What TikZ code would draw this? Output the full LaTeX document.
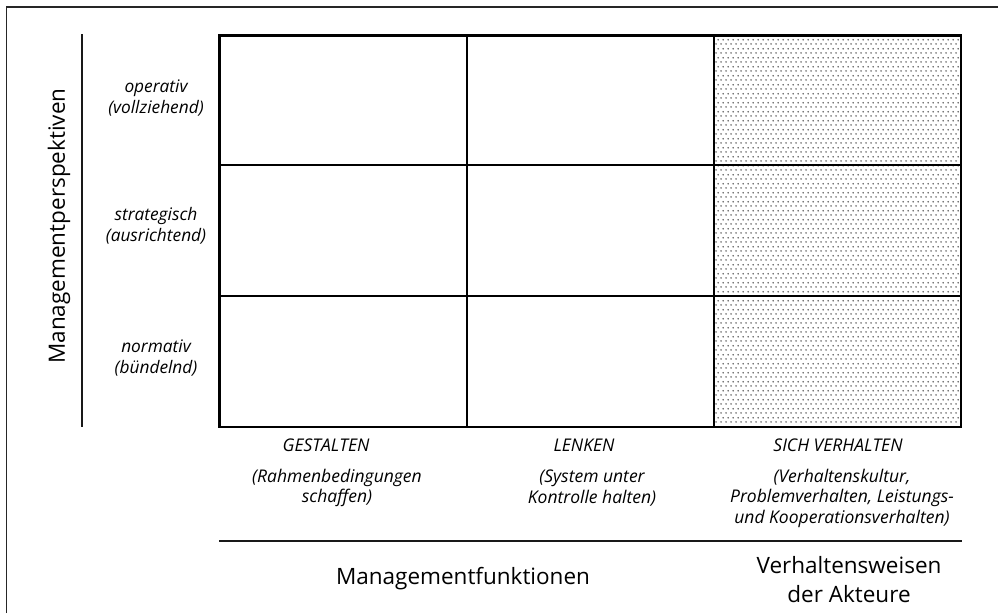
\documentclass[tikz,border=0pt]{standalone}
\usepackage{fontspec}
\setmainfont{Open Sans}
\usetikzlibrary{patterns.meta}

% staggered dot raster for the behaviour column
\tikzdeclarepattern{
  name=fieldpoints,
  type=uncolored,
  bottom left={(0pt,0pt)},
  top right={(5pt,8.6pt)},
  tile size={(5pt,8.6pt)},
  code={
    \fill (1.25pt,2.15pt) circle (0.9pt);
    \fill (3.75pt,6.45pt) circle (0.9pt);
  }
}

\tikzset{
  frameline/.style={line width=1.2pt, black!85},
  gridline/.style={line width=2.4pt, black},
  axisline/.style={line width=2.6pt, black!90},
  rowlabel/.style={font=\itshape\fontsize{17.3}{21}\selectfont, align=center, inner sep=0pt},
  collabel/.style={font=\itshape\fontsize{17.5}{20.5}\selectfont, align=center, inner sep=0pt},
  axistitle/.style={font=\fontsize{22.5}{29}\selectfont, align=center, inner sep=0pt},
}

\begin{document}
\begin{tikzpicture}[x=1pt, y=-1pt]
  \useasboundingbox (0,0) rectangle (998,613);
  \fill[white] (0,0) rectangle (998,613);

  % outer frame (top and left edges)
  \draw[frameline] (6.5,613) -- (6.5,7) -- (998,7);

  % grid corner points
  \coordinate (g00) at (219.5,35.5);
  \coordinate (g33) at (961,427);
  \coordinate (c2top) at (714,35.5);

  % dotted behaviour column
  \fill[pattern={fieldpoints}, pattern color=black!72] (c2top) rectangle (g33);

  % matrix lines
  \draw[gridline] (g00) rectangle (g33);
  \draw[gridline] (466.7,35.5) -- (466.7,427);
  \draw[gridline] (714,35.5) -- (714,427);
  \draw[gridline] (219.5,165) -- (961,165);
  \draw[gridline] (219.5,296) -- (961,296);

  % vertical axis
  \coordinate (axtop) at (82,34);
  \coordinate (axbot) at (82,427);
  \draw[axisline] (axtop) -- (axbot);
  \node[axistitle, rotate=90] (perspektiven) at (59,226) {Managementperspektiven};

  % row labels
  \node[rowlabel] (operativ) at (156,98) {operativ\\(vollziehend)};
  \node[rowlabel] (strategisch) at (156,226) {strategisch\\(ausrichtend)};
  \node[rowlabel] (normativ) at (156,358) {normativ\\(bündelnd)};

  % column labels
  \node[collabel] (gestalten) at (326,445) {GESTALTEN};
  \node[collabel] (gestaltendesc) at (337,488) {(Rahmenbedingungen\\schaffen)};
  \node[collabel] (lenken) at (584,445) {LENKEN};
  \node[collabel] (lenkendesc) at (592,488) {(System unter\\Kontrolle halten)};
  \node[collabel] (verhalten) at (838,445) {SICH VERHALTEN};
  \node[collabel] (verhaltendesc) at (842,498) {(Verhaltenskultur,\\Problemverhalten, Leistungs-\\und Kooperationsverhalten)};

  % horizontal axis
  \coordinate (hxl) at (219,541);
  \coordinate (hxr) at (962,541);
  \draw[axisline] (hxl) -- (hxr);
  \node[axistitle, anchor=base] (funktionen) at (463,584) {Managementfunktionen};
  \node[axistitle, anchor=base] (akteure) at (849,602) {Verhaltensweisen\\der Akteure};
\end{tikzpicture}
\end{document}
